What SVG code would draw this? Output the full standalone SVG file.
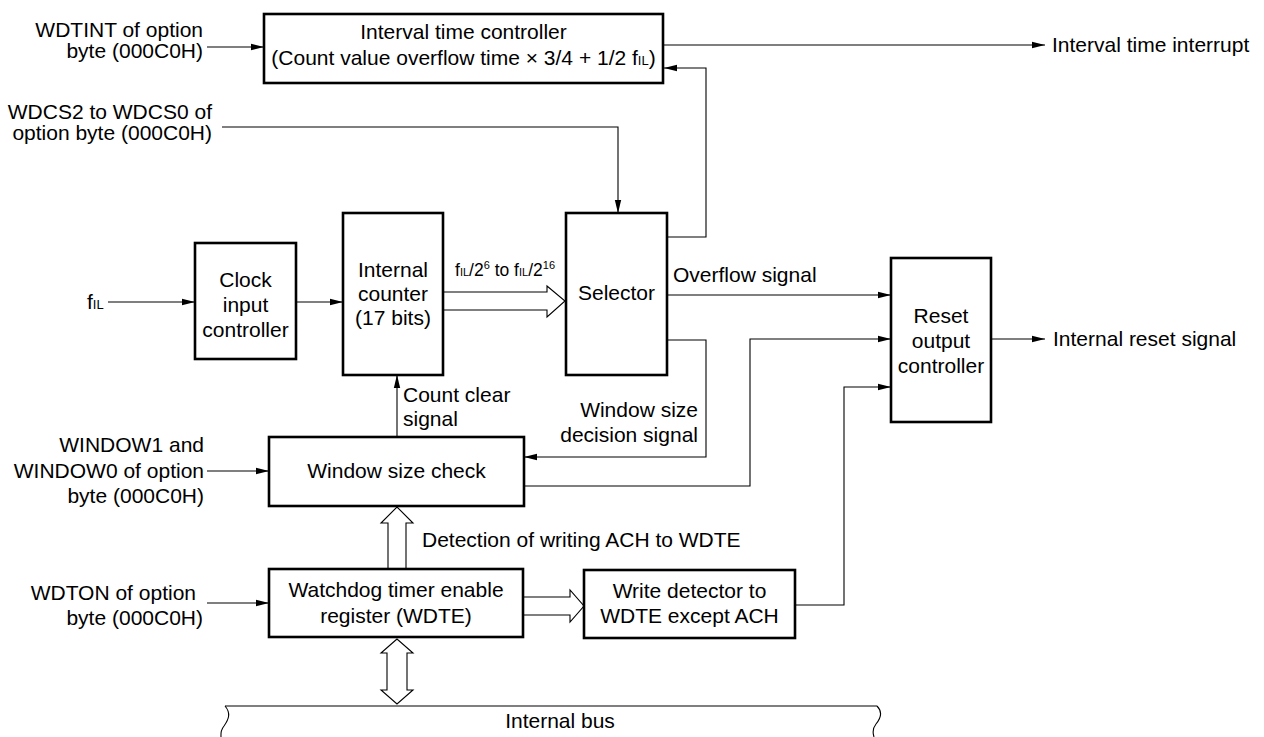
<svg xmlns="http://www.w3.org/2000/svg" width="1264" height="737" viewBox="0 0 1264 737">
<style>
text{font-family:"Liberation Sans",Arial,sans-serif;font-size:21px;fill:#000}
.m{text-anchor:middle}
.e{text-anchor:end}
.sub{font-size:13px}
.fs{font-size:11px}
.box{fill:#fff;stroke:#000;stroke-width:2.6}
.c{fill:none;stroke:#000;stroke-width:1.1}
.h{fill:#fff;stroke:#000;stroke-width:1.1}
</style>
<defs>
<marker id="a" markerUnits="userSpaceOnUse" markerWidth="13" markerHeight="8" refX="13" refY="4" orient="auto">
<path d="M0,0.8 L13,4 L0,7.2 z" fill="#000"/>
</marker>
</defs>
<rect width="1264" height="737" fill="#fff"/>

<g id="connectors">
<line class="c" x1="207" y1="47" x2="264" y2="47" marker-end="url(#a)"/>
<line class="c" x1="663" y1="45" x2="1045" y2="45" marker-end="url(#a)"/>
<polyline class="c" points="667,237 706,237 706,68 664,68" marker-end="url(#a)"/>
<polyline class="c" points="222,127 618,127 618,213" marker-end="url(#a)"/>
<line class="c" x1="108" y1="302" x2="195" y2="302" marker-end="url(#a)"/>
<line class="c" x1="296" y1="302" x2="343" y2="302" marker-end="url(#a)"/>
<path class="h" d="M443,292 H547 V286 L565,301 L547,317 V310 H443"/>
<line class="c" x1="667" y1="295" x2="891" y2="295" marker-end="url(#a)"/>
<line class="c" x1="991" y1="339" x2="1045" y2="339" marker-end="url(#a)"/>
<polyline class="c" points="667,340 706,340 706,457 524,457" marker-end="url(#a)"/>
<polyline class="c" points="524,486 750,486 750,339 891,339" marker-end="url(#a)"/>
<line class="c" x1="397" y1="437" x2="397" y2="375" marker-end="url(#a)"/>
<line class="c" x1="207" y1="471" x2="269" y2="471" marker-end="url(#a)"/>
<path class="h" d="M388,568 V523 H381 L397,507 L413,523 H406 V568"/>
<line class="c" x1="207" y1="603" x2="269" y2="603" marker-end="url(#a)"/>
<path class="h" d="M523,597 H570 V590 L584,606 L570,622 V615 H523"/>
<polyline class="c" points="795,605 844,605 844,387 891,387" marker-end="url(#a)"/>
<path class="h" d="M397,639 L381,653 H387 V690 H381 L397,704 L413,690 H407 V653 H413 Z"/>
</g>

<g id="internal-bus">
<line class="c" x1="225" y1="706" x2="877" y2="706"/>
<path class="c" d="M225,706 C231,713 229,719 224,726 C220,731 221,735 221,737"/>
<path class="c" d="M877,706 C883,712 881,718 876,724 C872,729 873,734 874,737"/>
<text class="m" x="560" y="728">Internal bus</text>
</g>

<g id="label-wdtint">
<text class="e" x="203" y="37">WDTINT of option</text>
<text class="e" x="203" y="58">byte (000C0H)</text>
</g>
<g id="label-wdcs">
<text class="e" x="212" y="119">WDCS2 to WDCS0 of</text>
<text class="e" x="212" y="140">option byte (000C0H)</text>
</g>
<g id="label-fil">
<text x="87" y="309">f<tspan class="sub">IL</tspan></text>
</g>
<g id="label-window">
<text class="e" x="204" y="452">WINDOW1 and</text>
<text class="e" x="204" y="478">WINDOW0 of option</text>
<text class="e" x="204" y="503">byte (000C0H)</text>
</g>
<g id="label-wdton">
<text class="e" x="196" y="600">WDTON of option</text>
<text class="e" x="203" y="625">byte (000C0H)</text>
</g>

<g id="interval-time-controller">
<rect class="box" x="264" y="14" width="399" height="69"/>
<text class="m" x="463.5" y="39">Interval time controller</text>
<text class="m" x="463.5" y="65">(Count value overflow time × 3/4 + 1/2 f<tspan class="sub">IL</tspan>)</text>
</g>
<text id="label-interval-interrupt" x="1052" y="52">Interval time interrupt</text>

<g id="clock-input-controller">
<rect class="box" x="195" y="243" width="101" height="116"/>
<text class="m" x="245.5" y="287">Clock</text>
<text class="m" x="245.5" y="312">input</text>
<text class="m" x="245.5" y="337">controller</text>
</g>

<g id="internal-counter">
<rect class="box" x="343" y="213" width="100" height="162"/>
<text class="m" x="393" y="277">Internal</text>
<text class="m" x="393" y="301">counter</text>
<text class="m" x="393" y="325">(17 bits)</text>
</g>
<text id="label-freq" x="455" y="276" style="font-size:17.5px">f<tspan class="fs">IL</tspan>/2<tspan class="fs" dy="-7">6</tspan><tspan dy="7"> to f</tspan><tspan class="fs">IL</tspan>/2<tspan class="fs" dy="-7">16</tspan></text>

<g id="selector">
<rect class="box" x="566" y="213" width="101" height="162"/>
<text class="m" x="616.5" y="300">Selector</text>
</g>
<text id="label-overflow" x="673" y="282">Overflow signal</text>

<g id="reset-output-controller">
<rect class="box" x="891" y="258" width="100" height="164"/>
<text class="m" x="941" y="323">Reset</text>
<text class="m" x="941" y="348">output</text>
<text class="m" x="941" y="373">controller</text>
</g>
<text id="label-internal-reset" x="1053" y="346">Internal reset signal</text>

<g id="label-window-decision">
<text class="e" x="698" y="417">Window size</text>
<text class="e" x="698" y="442">decision signal</text>
</g>
<g id="label-count-clear">
<text x="403" y="402">Count clear</text>
<text x="403" y="426">signal</text>
</g>

<g id="window-size-check">
<rect class="box" x="269" y="437" width="255" height="69"/>
<text class="m" x="396.5" y="478">Window size check</text>
</g>
<text id="label-detection" x="422" y="547">Detection of writing ACH to WDTE</text>

<g id="wdte">
<rect class="box" x="269" y="569" width="254" height="68"/>
<text class="m" x="396" y="597">Watchdog timer enable</text>
<text class="m" x="396" y="623">register (WDTE)</text>
</g>

<g id="write-detector">
<rect class="box" x="584" y="570" width="211" height="68"/>
<text class="m" x="689.5" y="598">Write detector to</text>
<text class="m" x="689.5" y="623">WDTE except ACH</text>
</g>
</svg>
